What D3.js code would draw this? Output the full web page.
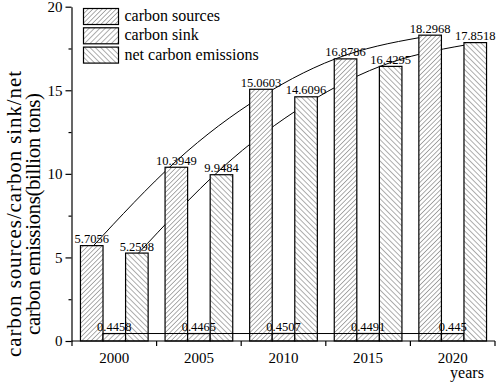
<!DOCTYPE html>
<html>
<head>
<meta charset="utf-8">
<script src="https://cdn.jsdelivr.net/npm/d3@7"></script>
<style>
  html, body { margin: 0; padding: 0; background: #fff; }
</style>
</head>
<body>
<svg id="chart" width="498" height="384"></svg>
<script>
// ---- data ----
const years = ["2000", "2005", "2010", "2015", "2020"];
const seriesNames = ["carbon sources", "carbon sink", "net carbon emissions"];
const carbonSources = [5.7056, 10.3949, 15.0603, 16.8786, 18.2968];
const carbonSink = [0.4458, 0.4465, 0.4507, 0.4491, 0.445];
const netEmissions = [5.2598, 9.9484, 14.6096, 16.4295, 17.8518];
// fitted trend curves
const sourcesTrend = [5.59, 10.77, 14.61, 17.10, 18.26];
const sinkTrend = [0.447, 0.447, 0.447, 0.447, 0.447];
const netTrend = [5.15, 10.32, 14.16, 16.66, 17.81];
const yMajorTicks = [0, 5, 10, 15, 20];
const yMinorTicks = [2.5, 7.5, 12.5, 17.5];
const yTitleLines = ["carbon sources/carbon sink/net", "carbon emissions(billion tons)"];

const FONT = '"Liberation Serif", "Times New Roman", Times, serif';
const svg = d3.select("#chart");
const plot = { left: 71.5, right: 495, top: 6.7, bottom: 341 };

const x = d3.scaleBand().domain(years).range([72, plot.right]).padding(0);
const xs = d3.scaleBand().domain(seriesNames)
  .range([x.bandwidth() * 0.1, x.bandwidth() * 0.9]).padding(0);
const y = d3.scaleLinear().domain([0, 20]).range([plot.bottom, plot.top]);

// ---- hatch patterns ----
const defs = svg.append("defs");
function hatch(id, size, angle) {
  const p = defs.append("pattern").attr("id", id)
    .attr("patternUnits", "userSpaceOnUse")
    .attr("width", size).attr("height", size)
    .attr("patternTransform", `rotate(${angle})`);
  p.append("rect").attr("width", size).attr("height", size).attr("fill", "#fff");
  p.append("line").attr("x1", 0).attr("y1", 0).attr("x2", 0).attr("y2", size)
    .attr("stroke", "#333").attr("stroke-width", 0.8);
}
hatch("h-sources", 3.3, 45);
hatch("h-sink", 3.8, 45);
hatch("h-net", 3.8, -45);
const fills = { "carbon sources": "url(#h-sources)", "carbon sink": "url(#h-sink)", "net carbon emissions": "url(#h-net)" };

const data = years.map((yr, i) => ({
  year: yr,
  values: [
    { s: "carbon sources", v: carbonSources[i] },
    { s: "carbon sink", v: carbonSink[i] },
    { s: "net carbon emissions", v: netEmissions[i] }
  ]
}));

const cx = (yr, s) => x(yr) + xs(s) + xs.bandwidth() / 2;

// ---- trend curves (behind bars) ----
const line = d3.line().curve(d3.curveNatural);
svg.append("path")
  .attr("d", line(years.map((yr, i) => [cx(yr, "carbon sources"), y(sourcesTrend[i])])))
  .attr("fill", "none").attr("stroke", "#000").attr("stroke-width", 1);
svg.append("path")
  .attr("d", line(years.map((yr, i) => [cx(yr, "net carbon emissions"), y(netTrend[i])])))
  .attr("fill", "none").attr("stroke", "#000").attr("stroke-width", 1);

// ---- bars ----
const g = svg.selectAll("g.grp").data(data).join("g").attr("class", "grp")
  .attr("transform", d => `translate(${x(d.year)},0)`);
g.selectAll("rect").data(d => d.values).join("rect")
  .attr("x", d => xs(d.s))
  .attr("y", d => y(d.v))
  .attr("width", xs.bandwidth())
  .attr("height", d => y(0) - y(d.v))
  .attr("fill", d => fills[d.s])
  .attr("stroke", "#000").attr("stroke-width", 1.2);

// ---- sink trend line (on top) ----
svg.append("path")
  .attr("d", d3.line()([
    [x(years[0]) + xs("carbon sink"), y(sinkTrend[0])],
    [x(years[years.length - 1]) + xs("carbon sink") + xs.bandwidth(), y(sinkTrend[sinkTrend.length - 1])]
  ]))
  .attr("fill", "none").attr("stroke", "#000").attr("stroke-width", 1);

// ---- value labels ----
g.selectAll("text.val").data(d => d.values).join("text").attr("class", "val")
  .attr("x", d => xs(d.s) + xs.bandwidth() / 2)
  .attr("y", d => y(d.v) - 2.5)
  .attr("text-anchor", "middle")
  .attr("font-family", FONT)
  .attr("font-size", 12.5)
  .attr("fill", "#000")
  .text(d => String(d.v));

// ---- axes ----
const yAxis = svg.append("g").attr("transform", `translate(${plot.left},0)`)
  .call(d3.axisLeft(y).tickValues(yMajorTicks).tickSize(6).tickSizeOuter(0).tickPadding(3));
yAxis.attr("font-family", FONT);
yAxis.selectAll("text").attr("font-size", 15).attr("fill", "#000");
yAxis.selectAll("line,path").attr("stroke", "#000").attr("stroke-width", 1.2);
const yMinor = svg.append("g").attr("transform", `translate(${plot.left},0)`)
  .call(d3.axisLeft(y).tickValues(yMinorTicks).tickSize(3).tickFormat(""));
yMinor.select("path").remove();
yMinor.selectAll("line").attr("stroke", "#000").attr("stroke-width", 1.2);

// x axis: line, boundary ticks, centered labels
const xg = svg.append("g").attr("font-family", FONT);
xg.append("line").attr("x1", plot.left).attr("x2", plot.right)
  .attr("y1", y(0)).attr("y2", y(0)).attr("stroke", "#000").attr("stroke-width", 1.2);
const bounds = years.map(yr => x(yr)).concat([x(years[years.length - 1]) + x.bandwidth()]);
xg.selectAll("line.tk").data(bounds).join("line").attr("class", "tk")
  .attr("x1", d => d).attr("x2", d => d)
  .attr("y1", y(0)).attr("y2", y(0) + 5)
  .attr("stroke", "#000").attr("stroke-width", 1.2);
xg.selectAll("text.xl").data(years).join("text").attr("class", "xl")
  .attr("x", d => x(d) + x.bandwidth() / 2)
  .attr("y", 363)
  .attr("text-anchor", "middle").attr("font-size", 15).attr("fill", "#000")
  .text(d => d);
svg.append("text").attr("x", 467).attr("y", 378).attr("text-anchor", "middle")
  .attr("font-family", FONT).attr("font-size", 16).attr("fill", "#000").text("years");

// y label (two lines)
const yl = svg.append("text").attr("transform", "translate(0,214) rotate(-90)")
  .attr("text-anchor", "middle").attr("font-family", FONT).attr("font-size", 21).attr("fill", "#000");
yl.selectAll("tspan").data(yTitleLines).join("tspan")
  .attr("x", 0).attr("y", (d, i) => 20.5 + i * 19)
  .attr("textLength", (d, i) => i === 0 ? 286 : 242)
  .text(d => d);

// ---- legend ----
const lg = svg.append("g").selectAll("g").data(seriesNames).join("g")
  .attr("transform", (d, i) => `translate(83.5,${8.5 + i * 19.3})`);
lg.append("rect").attr("width", 35).attr("height", 16)
  .attr("fill", d => fills[d]).attr("stroke", "#000").attr("stroke-width", 1.2);
lg.append("text").attr("x", 41).attr("y", 12.5)
  .attr("font-family", FONT).attr("font-size", 16).attr("fill", "#000")
  .text(d => d);
</script>
</body>
</html>
